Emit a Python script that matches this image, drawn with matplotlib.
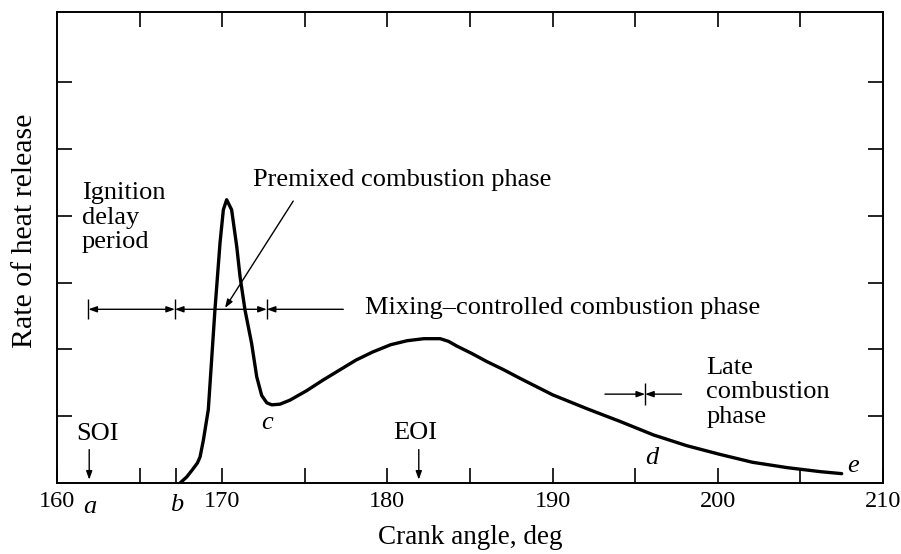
import numpy as np
import matplotlib.pyplot as plt
from matplotlib.ticker import FixedLocator, NullFormatter

# heat release curve
crank = [167.45, 167.85, 168.2, 168.5, 168.66, 168.86, 169.16, 169.56, 169.87, 170.07,
         170.27, 170.57, 170.88, 171.08, 171.38, 171.78, 172.09, 172.39, 172.7, 173.0,
         173.5, 174.1, 175.1, 176.1, 177.1, 178.1, 179.1, 180.2, 181.2, 182.2,
         183.2, 183.7, 184.2, 185.1, 186.0, 187.0, 188.0, 190.0, 192.1, 194.1,
         196.1, 198.1, 200.1, 202.1, 204.2, 206.2, 207.5]
heat = [0.0, 0.09, 0.2, 0.3, 0.39, 0.64, 1.1, 2.59, 3.6, 4.09,
        4.24, 4.09, 3.54, 3.09, 2.59, 2.09, 1.59, 1.31, 1.2, 1.17,
        1.18, 1.24, 1.38, 1.54, 1.69, 1.84, 1.96, 2.07, 2.13, 2.16,
        2.16, 2.12, 2.05, 1.94, 1.82, 1.70, 1.57, 1.32, 1.11, 0.92,
        0.72, 0.56, 0.43, 0.31, 0.23, 0.17, 0.14]

x_labels = [160, 170, 180, 190, 200, 210]
x_minor = [165, 167.2, 175, 185, 195, 205]
top_minor = [165, 170, 175, 180, 185, 190, 195, 200, 205]
y_ticks = [1, 2, 3, 4, 5, 6]

# phase markers
soi, eoi = 161.95, 181.9
phase_bars = [161.9, 167.14, 172.7]
mix_end = 177.33
late_bar, late_left, late_right = 195.6, 193.17, 197.8

serif = ['Liberation Serif', 'DejaVu Serif']
plt.rcParams['font.family'] = serif
fs = 19

fig = plt.figure(figsize=(9.01, 5.54), dpi=100)
ax = fig.add_axes([57 / 901, 1 - 483 / 554, 826 / 901, 471 / 554])
ax.set_xlim(160, 210)
ax.set_ylim(0, 7.05)

ax.plot(crank, heat, color='black', lw=2.4, solid_capstyle='round', solid_joinstyle='round')

for s in ax.spines.values():
    s.set_linewidth(1.4)

ax.xaxis.set_major_locator(FixedLocator(x_labels))
ax.xaxis.set_minor_locator(FixedLocator(x_minor))
ax.set_yticks(y_ticks)
ax.set_yticklabels([])
ax.tick_params(axis='x', which='both', direction='in', length=11, width=1.2,
               labelsize=17.5, pad=6, top=False)
ax.tick_params(axis='y', which='both', direction='in', length=11, width=1.2,
               left=True, right=True)

# top ticks on a secondary axis so they stay unlabeled
top = ax.secondary_xaxis('top')
top.xaxis.set_major_locator(FixedLocator(top_minor))
top.xaxis.set_major_formatter(NullFormatter())
top.tick_params(direction='in', length=11, width=1.2)
top.spines['top'].set_visible(False)

ax.set_xlabel('Crank angle, deg', fontsize=19.5, labelpad=9)
ax.set_ylabel('Rate of heat release', fontsize=21.5)
ax.yaxis.set_label_coords(-0.023, 0.535)

arrow_kw = dict(arrowstyle='-|>,head_length=0.5,head_width=0.18', color='black',
                lw=1.0, shrinkA=0, shrinkB=0)
both_kw = dict(arrow_kw, arrowstyle='<|-|>,head_length=0.5,head_width=0.18')

# SOI / EOI
ax.annotate('', xy=(soi, 0.05), xytext=(soi, 0.5), arrowprops=arrow_kw)
ax.annotate('', xy=(eoi, 0.05), xytext=(eoi, 0.5), arrowprops=arrow_kw)
ax.text(162.48, 0.73, 'SOI', fontsize=fs, ha='center', va='center')
ax.text(181.67, 0.75, 'EOI', fontsize=fs, ha='center', va='center')

# phase span arrows
yb = 2.6
ax.vlines(phase_bars, yb - 0.15, yb + 0.15, color='black', lw=1.0)
ax.annotate('', xy=(phase_bars[0], yb), xytext=(phase_bars[1], yb), arrowprops=both_kw)
ax.annotate('', xy=(phase_bars[1], yb), xytext=(phase_bars[2], yb), arrowprops=both_kw)
ax.annotate('', xy=(phase_bars[2], yb), xytext=(mix_end, yb), arrowprops=arrow_kw)

ax.annotate('', xy=(170.17, 2.62), xytext=(174.3, 4.22), arrowprops=arrow_kw)

yl = 1.33
ax.vlines([late_bar], yl - 0.16, yl + 0.16, color='black', lw=1.0)
ax.annotate('', xy=(late_bar, yl), xytext=(late_left, yl), arrowprops=arrow_kw)
ax.annotate('', xy=(late_bar, yl), xytext=(late_right, yl), arrowprops=arrow_kw)

ax.text(161.5, 3.97, 'Ignition\ndelay\nperiod', fontsize=fs, ha='left', va='center',
        linespacing=1.15)
ax.text(171.86, 4.53, 'Premixed combustion phase', fontsize=fs, ha='left', va='center')
ax.text(178.64, 2.62, 'Mixing\u2013controlled combustion phase', fontsize=fs,
        ha='left', va='center')
ax.text(199.3, 1.36, 'Late\ncombustion\nphase', fontsize=fs, ha='left', va='center',
        linespacing=1.15)

# point letters
it = dict(fontsize=fs, style='italic', ha='center', va='center')
ax.text(172.69, 0.9, 'c', **it)
ax.text(196.0, 0.37, 'd', **it)
ax.text(208.2, 0.25, 'e', **it)
ax.text(162.0, -0.36, 'a', clip_on=False, **it)
ax.text(167.26, -0.33, 'b', clip_on=False, **it)

fig.savefig('out.png', dpi=100, facecolor='white')
